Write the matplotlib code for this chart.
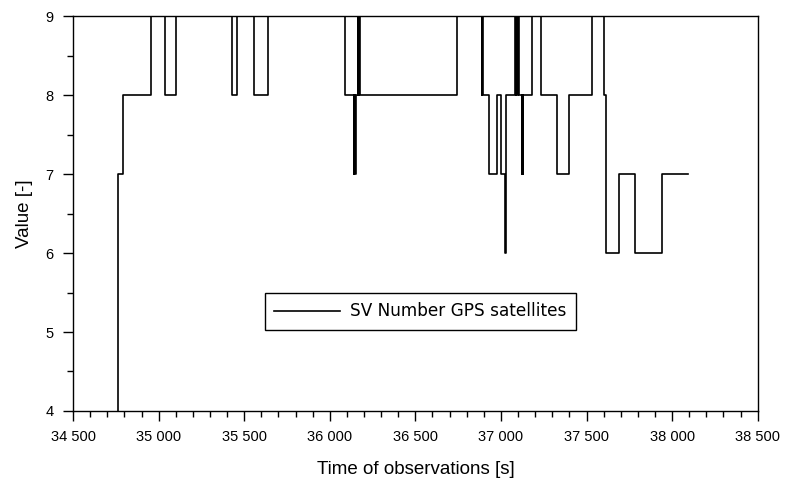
#!/usr/bin/env python3
"""
Number of GPS satellites in view over the observation window.
"""

import matplotlib
matplotlib.use('Agg')
import matplotlib.pyplot as plt
from matplotlib.ticker import MultipleLocator, FuncFormatter

plt.rcParams['font.family'] = ['Liberation Sans', 'DejaVu Sans']

# Step changes: time of observation [s] and satellite count from that time on
times = [34760, 34762, 34790, 34954, 35039, 35100, 35430, 35460, 35559, 35641,
         36087, 36140, 36143, 36148, 36151, 36163, 36166, 36170, 36174, 36744,
         36887, 36890, 36894, 36929, 36974, 37000, 37025, 37028,
         37081, 37085, 37090, 37095, 37100, 37108, 37120, 37124, 37126, 37130,
         37179, 37231, 37325, 37400, 37533, 37603, 37611, 37690, 37782, 37942,
         38093]
sv_count = [4, 7, 8, 9, 8, 9, 8, 9, 8, 9,
            8, 7, 8, 7, 8, 9, 8, 9, 8, 9,
            8, 9, 8, 7, 8, 7, 6, 8,
            9, 8, 9, 8, 9, 8, 7, 8, 7, 8,
            9, 8, 7, 8, 9, 8, 6, 7, 6, 7,
            7]

x_ticks = [34500, 35000, 35500, 36000, 36500, 37000, 37500, 38000, 38500]
y_ticks = [4, 5, 6, 7, 8, 9]


def thousands(v, pos):
    return '{:,}'.format(int(v)).replace(',', ' ')


fig = plt.figure(figsize=(7.87, 4.91), dpi=100)
ax = fig.add_axes([0.0928, 0.163, 0.870, 0.804])

ax.step(times, sv_count, where='post', color='black', linewidth=1.2,
        label='SV Number GPS satellites')

ax.set_xlim(34500, 38500)
ax.set_ylim(4, 9)
ax.set_xticks(x_ticks)
ax.set_yticks(y_ticks)
ax.xaxis.set_minor_locator(MultipleLocator(100))
ax.yaxis.set_minor_locator(MultipleLocator(0.5))
ax.xaxis.set_major_formatter(FuncFormatter(thousands))

ax.tick_params(which='major', direction='out', length=7, width=1,
               labelsize=10.5, pad=7, top=False, right=False)
ax.tick_params(which='minor', direction='out', length=4, width=1,
               top=False, right=False)
for s in ax.spines.values():
    s.set_linewidth(1)

ax.set_xlabel('Time of observations [s]', fontsize=13.5, labelpad=12)
ax.set_ylabel('Value [-]', fontsize=13.5, labelpad=9)

leg = ax.legend(loc='center', bbox_to_anchor=(0.507, 0.252),
                prop={'family': 'DejaVu Sans', 'size': 12.2},
                handlelength=3.9, handletextpad=0.6, borderpad=0.55,
                borderaxespad=0, fancybox=False, framealpha=1,
                edgecolor='black')
leg.get_frame().set_linewidth(1)

fig.savefig('out.png', dpi=100)
